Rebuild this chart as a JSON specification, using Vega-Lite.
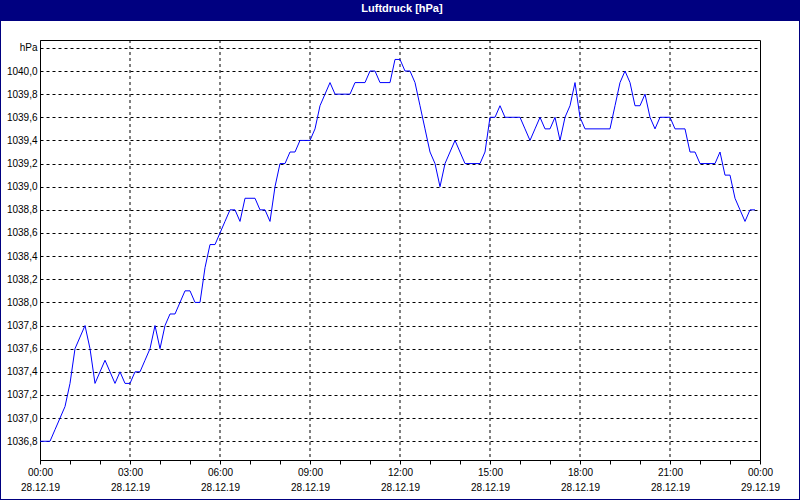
{
  "$schema": "https://vega.github.io/schema/vega-lite/v6.json",
  "description": "Luftdruck 28.12.19, x in Minuten ab 00:00",
  "background": "white",
  "autosize": "none",
  "padding": {"left": 40, "top": 40, "right": 40, "bottom": 40},
  "width": 720,
  "height": 420,
  "config": {
    "font": "Liberation Sans",
    "view": {"stroke": "black"},
    "axis": {
      "labelFontSize": 10,
      "labelColor": "black",
      "domainColor": "black",
      "tickColor": "black",
      "gridColor": "black",
      "gridDash": [3, 3]
    }
  },
  "layer": [
    {
      "data": {"values": [{}]},
      "mark": {"type": "rect", "color": "#000080"},
      "encoding": {
        "x": {"datum": -80, "type": "quantitative", "scale": {"domain": [0, 1440], "nice": false, "zero": false}},
        "x2": {"datum": 1520},
        "y": {"datum": 1040.614, "type": "quantitative", "scale": {"domain": [1036.638, 1040.268], "nice": false, "zero": false}},
        "y2": {"datum": 1040.432}
      }
    },
    {
      "data": {"values": [{}]},
      "mark": {"type": "rect", "fill": null, "stroke": "#000080", "strokeWidth": 2},
      "encoding": {
        "x": {"datum": -80, "type": "quantitative", "scale": {"domain": [0, 1440], "nice": false, "zero": false}},
        "x2": {"datum": 1520},
        "y": {"datum": 1040.614, "type": "quantitative", "scale": {"domain": [1036.638, 1040.268], "nice": false, "zero": false}},
        "y2": {"datum": 1036.292}
      }
    },
    {
      "data": {"values": [{"label": "Luftdruck [hPa]"}]},
      "mark": {"type": "text", "color": "white", "fontWeight": "bold", "fontSize": 11, "align": "center", "baseline": "middle"},
      "encoding": {
        "x": {"datum": 724, "type": "quantitative", "scale": {"domain": [0, 1440], "nice": false, "zero": false}},
        "y": {"datum": 1040.535, "type": "quantitative", "scale": {"domain": [1036.638, 1040.268], "nice": false, "zero": false}},
        "text": {"field": "label", "type": "nominal"}
      }
    },
    {
      "data": {"values": [{"m": 180}, {"m": 360}, {"m": 540}, {"m": 720}, {"m": 900}, {"m": 1080}, {"m": 1260}]},
      "mark": {"type": "rule", "color": "black", "strokeWidth": 1, "strokeDash": [3, 3]},
      "encoding": {
        "x": {"field": "m", "type": "quantitative", "scale": {"domain": [0, 1440], "nice": false, "zero": false}}
      }
    },
    {
      "data": {
        "values": [
          {"m": 0, "p": 1036.8}, {"m": 10, "p": 1036.8}, {"m": 20, "p": 1036.8}, {"m": 30, "p": 1036.9}, {"m": 40, "p": 1037.0}, {"m": 50, "p": 1037.1},
          {"m": 60, "p": 1037.3}, {"m": 70, "p": 1037.6}, {"m": 80, "p": 1037.7}, {"m": 90, "p": 1037.8}, {"m": 100, "p": 1037.6}, {"m": 110, "p": 1037.3},
          {"m": 120, "p": 1037.4}, {"m": 130, "p": 1037.5}, {"m": 140, "p": 1037.4}, {"m": 150, "p": 1037.3}, {"m": 160, "p": 1037.4}, {"m": 170, "p": 1037.3},
          {"m": 180, "p": 1037.3}, {"m": 190, "p": 1037.4}, {"m": 200, "p": 1037.4}, {"m": 210, "p": 1037.5}, {"m": 220, "p": 1037.6}, {"m": 230, "p": 1037.8},
          {"m": 240, "p": 1037.6}, {"m": 250, "p": 1037.8}, {"m": 260, "p": 1037.9}, {"m": 270, "p": 1037.9}, {"m": 280, "p": 1038.0}, {"m": 290, "p": 1038.1},
          {"m": 300, "p": 1038.1}, {"m": 310, "p": 1038.0}, {"m": 320, "p": 1038.0}, {"m": 330, "p": 1038.3}, {"m": 340, "p": 1038.5}, {"m": 350, "p": 1038.5},
          {"m": 360, "p": 1038.6}, {"m": 370, "p": 1038.7}, {"m": 380, "p": 1038.8}, {"m": 390, "p": 1038.8}, {"m": 400, "p": 1038.7}, {"m": 410, "p": 1038.9},
          {"m": 420, "p": 1038.9}, {"m": 430, "p": 1038.9}, {"m": 440, "p": 1038.8}, {"m": 450, "p": 1038.8}, {"m": 460, "p": 1038.7}, {"m": 470, "p": 1039.0},
          {"m": 480, "p": 1039.2}, {"m": 490, "p": 1039.2}, {"m": 500, "p": 1039.3}, {"m": 510, "p": 1039.3}, {"m": 520, "p": 1039.4}, {"m": 530, "p": 1039.4},
          {"m": 540, "p": 1039.4}, {"m": 550, "p": 1039.5}, {"m": 560, "p": 1039.7}, {"m": 570, "p": 1039.8}, {"m": 580, "p": 1039.9}, {"m": 590, "p": 1039.8},
          {"m": 600, "p": 1039.8}, {"m": 610, "p": 1039.8}, {"m": 620, "p": 1039.8}, {"m": 630, "p": 1039.9}, {"m": 640, "p": 1039.9}, {"m": 650, "p": 1039.9},
          {"m": 660, "p": 1040.0}, {"m": 670, "p": 1040.0}, {"m": 680, "p": 1039.9}, {"m": 690, "p": 1039.9}, {"m": 700, "p": 1039.9}, {"m": 710, "p": 1040.1},
          {"m": 720, "p": 1040.1}, {"m": 730, "p": 1040.0}, {"m": 740, "p": 1040.0}, {"m": 750, "p": 1039.9}, {"m": 760, "p": 1039.7}, {"m": 770, "p": 1039.5},
          {"m": 780, "p": 1039.3}, {"m": 790, "p": 1039.2}, {"m": 800, "p": 1039.0}, {"m": 810, "p": 1039.2}, {"m": 820, "p": 1039.3}, {"m": 830, "p": 1039.4},
          {"m": 840, "p": 1039.3}, {"m": 850, "p": 1039.2}, {"m": 860, "p": 1039.2}, {"m": 870, "p": 1039.2}, {"m": 880, "p": 1039.2}, {"m": 890, "p": 1039.3},
          {"m": 900, "p": 1039.6}, {"m": 910, "p": 1039.6}, {"m": 920, "p": 1039.7}, {"m": 930, "p": 1039.6}, {"m": 940, "p": 1039.6}, {"m": 950, "p": 1039.6},
          {"m": 960, "p": 1039.6}, {"m": 970, "p": 1039.5}, {"m": 980, "p": 1039.4}, {"m": 990, "p": 1039.5}, {"m": 1000, "p": 1039.6}, {"m": 1010, "p": 1039.5},
          {"m": 1020, "p": 1039.5}, {"m": 1030, "p": 1039.6}, {"m": 1040, "p": 1039.4}, {"m": 1050, "p": 1039.6}, {"m": 1060, "p": 1039.7}, {"m": 1070, "p": 1039.9},
          {"m": 1080, "p": 1039.6}, {"m": 1090, "p": 1039.5}, {"m": 1100, "p": 1039.5}, {"m": 1110, "p": 1039.5}, {"m": 1120, "p": 1039.5}, {"m": 1130, "p": 1039.5},
          {"m": 1140, "p": 1039.5}, {"m": 1150, "p": 1039.7}, {"m": 1160, "p": 1039.9}, {"m": 1170, "p": 1040.0}, {"m": 1180, "p": 1039.9}, {"m": 1190, "p": 1039.7},
          {"m": 1200, "p": 1039.7}, {"m": 1210, "p": 1039.8}, {"m": 1220, "p": 1039.6}, {"m": 1230, "p": 1039.5}, {"m": 1240, "p": 1039.6}, {"m": 1250, "p": 1039.6},
          {"m": 1260, "p": 1039.6}, {"m": 1270, "p": 1039.5}, {"m": 1280, "p": 1039.5}, {"m": 1290, "p": 1039.5}, {"m": 1300, "p": 1039.3}, {"m": 1310, "p": 1039.3},
          {"m": 1320, "p": 1039.2}, {"m": 1330, "p": 1039.2}, {"m": 1340, "p": 1039.2}, {"m": 1350, "p": 1039.2}, {"m": 1360, "p": 1039.3}, {"m": 1370, "p": 1039.1},
          {"m": 1380, "p": 1039.1}, {"m": 1390, "p": 1038.9}, {"m": 1400, "p": 1038.8}, {"m": 1410, "p": 1038.7}, {"m": 1420, "p": 1038.8}, {"m": 1430, "p": 1038.8}
        ]
      },
      "mark": {"type": "line", "color": "#0000ff", "strokeWidth": 1},
      "encoding": {
        "x": {
          "field": "m",
          "type": "quantitative",
          "title": null,
          "scale": {"domain": [0, 1440], "nice": false, "zero": false},
          "axis": {
            "values": [0, 60, 120, 180, 240, 300, 360, 420, 480, 540, 600, 660, 720, 780, 840, 900, 960, 1020, 1080, 1140, 1200, 1260, 1320, 1380, 1440],
            "tickCount": 60,
            "labelExpr": "datum.value % 180 == 0 ? [(floor(datum.value / 60) % 24 < 10 ? '0' : '') + (floor(datum.value / 60) % 24) + ':00', datum.value < 1440 ? '28.12.19' : '29.12.19'] : ''",
            "grid": false,
            "labelOverlap": false,
            "labelFlush": false,
            "labelAngle": 0,
            "labelAlign": "center",
            "labelBaseline": "top",
            "labelLineHeight": 15,
            "labelPadding": 3,
            "tickSize": 4
          }
        },
        "y": {
          "field": "p",
          "type": "quantitative",
          "title": null,
          "scale": {"domain": [1036.638, 1040.268], "nice": false, "zero": false},
          "axis": {
            "values": [1036.8, 1037.0, 1037.2, 1037.4, 1037.6, 1037.8, 1038.0, 1038.2, 1038.4, 1038.6, 1038.8, 1039.0, 1039.2, 1039.4, 1039.6, 1039.8, 1040.0, 1040.2],
            "tickCount": 60,
            "labelExpr": "datum.value > 1040.1 ? 'hPa' : floor(round(datum.value * 10) / 10) + ',' + (round(datum.value * 10) % 10)",
            "grid": true,
            "labelOverlap": false,
            "labelFlush": false,
            "labelBound": false,
            "ticks": false,
            "labelPadding": 3
          }
        }
      }
    }
  ]
}
